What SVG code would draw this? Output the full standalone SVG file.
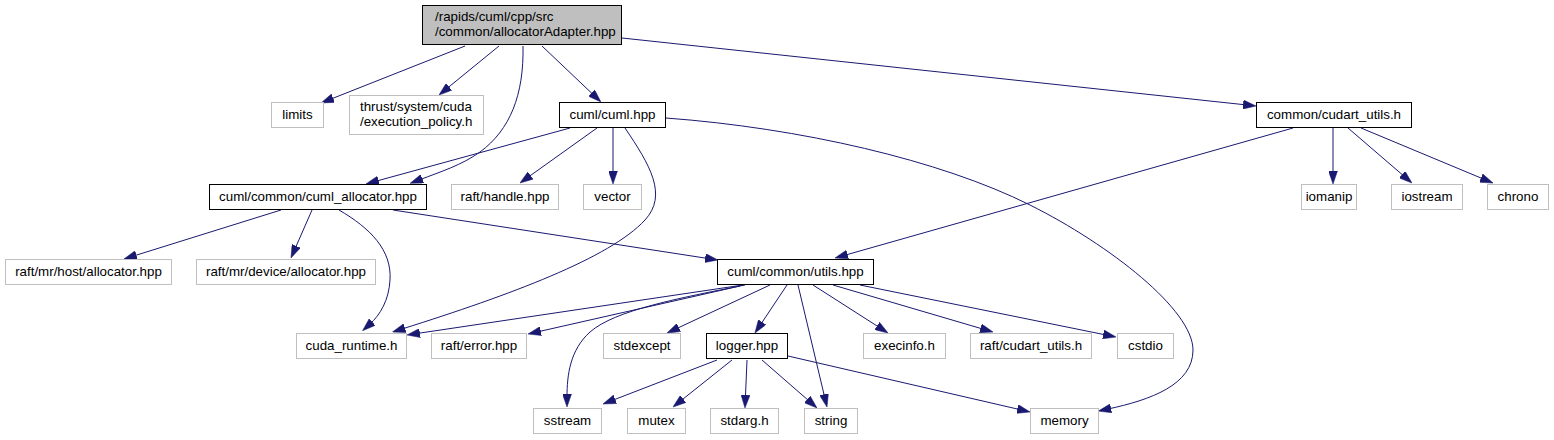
<svg xmlns="http://www.w3.org/2000/svg" width="1554" height="440" viewBox="0 0 1554 440">
<style>
  .n rect { fill: #ffffff; stroke: #bfbfbf; stroke-width: 1; }
  .n.k rect { stroke: #000000; }
  .n.r rect { fill: #bfbfbf; stroke: #000000; }
  text { font-family: "Liberation Sans", Arial, sans-serif; font-size: 13.33px; fill: #000000; }
  .c { text-anchor: middle; }
  #edges path { fill: none; stroke: #191970; stroke-width: 1; marker-end: url(#ah); }
</style>
<defs>
  <marker id="ah" viewBox="0 0 13 9" refX="3" refY="4.5" markerWidth="13" markerHeight="9" markerUnits="userSpaceOnUse" orient="auto">
    <path d="M0,0 L13,4.5 L0,9 z" fill="#191970" stroke="#191970" stroke-width="0.5"/>
  </marker>
</defs>
<rect width="1554" height="440" fill="#ffffff"/>
<g id="edges">
  <path d="M465,46 L330.3,99.3"/>
  <path d="M499,46 L446.7,88.7"/>
  <path d="M523,46 C524,95 510,130 480,152 C462,165 440,172 419.5,179.8"/>
  <path d="M542,46 L593.7,95.1"/>
  <path d="M622,38 L1246.1,104.9"/>
  <path d="M570,128 L375.6,181.3"/>
  <path d="M597,128 L528.1,177.2"/>
  <path d="M613,128 L613,174"/>
  <path d="M625,128 C650,165 668,195 645,220 C610,258 510,295 402,329"/>
  <path d="M666,118 C800,128 940,160 1030,205 C1110,245 1193,310 1193,350 C1193,385 1150,400 1108,409"/>
  <path d="M1293,128 L844.6,255.3"/>
  <path d="M1333,128 L1333,174"/>
  <path d="M1348,128 L1404.4,176.5"/>
  <path d="M1361,128 L1483.8,179.2"/>
  <path d="M281,210 L133.5,256"/>
  <path d="M312,210 L295,248.8"/>
  <path d="M339,210 C370,228 392,250 390,280 C389,300 380,315 370,324"/>
  <path d="M393,210 L708.1,258.5"/>
  <path d="M743,285 L416.9,333.5"/>
  <path d="M740,286 L537.8,331.8"/>
  <path d="M745,285 C680,298 615,310 590,332 C570,350 567,375 567,397"/>
  <path d="M770,285 L676.1,328.8"/>
  <path d="M787,285 L760.5,324.7"/>
  <path d="M798,285 L824.7,397.3"/>
  <path d="M813,285 L879.6,327.6"/>
  <path d="M833,285 L983.4,329.2"/>
  <path d="M860,285 L1106.2,335"/>
  <path d="M717,360 L612.3,400.4"/>
  <path d="M732,360 L680.8,400.8"/>
  <path d="M747,360 L745.4,398"/>
  <path d="M762,360 L809.5,401.4"/>
  <path d="M788,356 L1020.3,409.7"/>
</g>
<g id="root" class="n r"><rect x="422.5" y="5.5" width="199" height="39"/><text x="435" y="20.5">/rapids/cuml/cpp/src</text><text x="435" y="35.5">/common/allocatorAdapter.hpp</text></g>
<g id="limits" class="n"><rect x="271.5" y="102.5" width="52" height="25"/><text class="c" x="297.5" y="119">limits</text></g>
<g id="thrust" class="n"><rect x="349.5" y="95.5" width="134" height="39"/><text x="360" y="110.5">thrust/system/cuda</text><text x="360" y="125.5">/execution_policy.h</text></g>
<g id="cuml_hpp" class="n k"><rect x="559.5" y="102.5" width="106" height="25"/><text class="c" x="612.5" y="119">cuml/cuml.hpp</text></g>
<g id="cudart_utils" class="n k"><rect x="1256.5" y="102.5" width="155" height="25"/><text class="c" x="1334" y="119">common/cudart_utils.h</text></g>
<g id="cuml_allocator" class="n k"><rect x="209.5" y="184.5" width="217" height="25"/><text class="c" x="318" y="201">cuml/common/cuml_allocator.hpp</text></g>
<g id="raft_handle" class="n"><rect x="451.5" y="184.5" width="107" height="25"/><text class="c" x="505" y="201">raft/handle.hpp</text></g>
<g id="vector" class="n"><rect x="583.5" y="184.5" width="58" height="25"/><text class="c" x="612.5" y="201">vector</text></g>
<g id="iomanip" class="n"><rect x="1301.5" y="184.5" width="55" height="25"/><text class="c" x="1329" y="201">iomanip</text></g>
<g id="iostream" class="n"><rect x="1391.5" y="184.5" width="71" height="25"/><text class="c" x="1427" y="201">iostream</text></g>
<g id="chrono" class="n"><rect x="1487.5" y="184.5" width="61" height="25"/><text class="c" x="1518" y="201">chrono</text></g>
<g id="host_alloc" class="n"><rect x="5.5" y="259.5" width="166" height="25"/><text class="c" x="88.5" y="276">raft/mr/host/allocator.hpp</text></g>
<g id="device_alloc" class="n"><rect x="196.5" y="259.5" width="179" height="25"/><text class="c" x="286" y="276">raft/mr/device/allocator.hpp</text></g>
<g id="utils" class="n k"><rect x="717.5" y="259.5" width="156" height="25"/><text class="c" x="795.5" y="276">cuml/common/utils.hpp</text></g>
<g id="cuda_runtime" class="n"><rect x="296.5" y="333.5" width="110" height="25"/><text class="c" x="351.5" y="350">cuda_runtime.h</text></g>
<g id="raft_error" class="n"><rect x="431.5" y="333.5" width="95" height="25"/><text class="c" x="479" y="350">raft/error.hpp</text></g>
<g id="stdexcept" class="n"><rect x="603.5" y="333.5" width="77" height="25"/><text class="c" x="642" y="350">stdexcept</text></g>
<g id="logger" class="n k"><rect x="706.5" y="333.5" width="81" height="25"/><text class="c" x="747" y="350">logger.hpp</text></g>
<g id="execinfo" class="n"><rect x="863.5" y="333.5" width="82" height="25"/><text class="c" x="904.5" y="350">execinfo.h</text></g>
<g id="raft_cudart" class="n"><rect x="970.5" y="333.5" width="121" height="25"/><text class="c" x="1031" y="350">raft/cudart_utils.h</text></g>
<g id="cstdio" class="n"><rect x="1117.5" y="333.5" width="56" height="25"/><text class="c" x="1145.5" y="350">cstdio</text></g>
<g id="sstream" class="n"><rect x="533.5" y="408.5" width="68" height="25"/><text class="c" x="567.5" y="425">sstream</text></g>
<g id="mutex" class="n"><rect x="627.5" y="408.5" width="58" height="25"/><text class="c" x="656.5" y="425">mutex</text></g>
<g id="stdarg" class="n"><rect x="710.5" y="408.5" width="68" height="25"/><text class="c" x="744.5" y="425">stdarg.h</text></g>
<g id="string" class="n"><rect x="804.5" y="408.5" width="53" height="25"/><text class="c" x="831" y="425">string</text></g>
<g id="memory" class="n"><rect x="1030.5" y="408.5" width="68" height="25"/><text class="c" x="1064.5" y="425">memory</text></g>
</svg>
